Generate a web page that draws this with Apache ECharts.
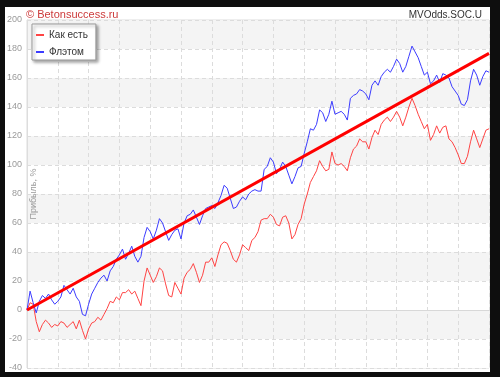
<!DOCTYPE html>
<html>
<head>
<meta charset="utf-8">
<script src="https://cdn.jsdelivr.net/npm/echarts@6/dist/echarts.min.js"></script>
<style>
html,body{margin:0;padding:0;background:#0e0e0e;}
#panel{position:absolute;left:5px;top:7px;width:485px;height:365px;background:#fff;}
#chart{position:absolute;left:0;top:0;width:500px;height:377px;}
</style>
</head>
<body>
<div id="panel"></div>
<div id="chart"></div>
<script>
// ---- data ----
const seriesNames = ['Как есть', 'Флэтом'];
const asIs = [0,5,4,-8,-15,-10,-7,-9,-12,-10,-11,-8,-9,-12,-10,-8,-13,-7,-14,-20,-13,-9,-8,-5,-7,-3,1,6,5,9,
7,12,12,14,11,13,8,3,20,29,24,19,23,29,27,18,10,9,19,15,11,22,26,28,32,26,19,24,33,33,
36,30,38,45,47,46,41,35,33,38,45,43,41,48,50,54,62,63,63,66,64,59,58,64,65,60,49,52,59,63,
73,80,88,92,96,103,99,96,97,109,101,100,101,99,96,105,111,113,118,116,116,111,119,124,121,128,131,133,130,133,
137,133,127,133,140,146,141,135,130,125,128,117,121,127,122,126,127,118,116,112,107,101,101,106,116,124,118,112,118,124,125];
const flat = [0,13,5,-2,6,10,8,11,7,4,6,9,17,14,11,15,9,6,-3,-4,4,11,15,19,22,24,20,27,30,35,
38,42,35,39,44,37,33,37,50,57,54,49,55,63,60,54,48,52,55,56,49,60,65,66,69,64,59,65,70,71,
72,70,74,79,86,84,77,70,71,75,78,76,80,82,83,82,82,97,99,105,102,94,97,102,99,93,87,92,98,99,
108,116,125,124,128,138,136,130,135,144,135,136,137,135,131,146,148,149,152,151,149,145,155,158,155,161,164,166,164,168,
173,170,164,168,175,182,178,174,168,162,164,156,158,162,157,163,162,160,154,151,148,142,141,145,158,166,162,155,161,165,164];
const arrowStart = [0, 0];
const arrowEnd = [150, 177];
const yTicks = {min: -40, max: 200, step: 20};
const xRange = {min: 0, max: 150, step: 10};
const texts = {
  copyright: '© Betonsuccess.ru',
  code: 'MVOdds.SOC.U',
  note: 'по прогнозам',
  yName: 'Прибыль, %'
};

const toPairs = arr => arr.map((v, i) => [i, v]);

const chart = echarts.init(document.getElementById('chart'), null, {renderer: 'canvas'});
chart.setOption({
  animation: false,
  backgroundColor: 'transparent',
  textStyle: {fontFamily: 'Liberation Sans, Arial, sans-serif'},
  grid: {left: 27, right: 11, top: 20, bottom: 9, show: true, borderColor: '#dddddd', borderWidth: 1, backgroundColor: 'transparent'},
  legend: {
    orient: 'vertical', left: 32, top: 24,
    data: seriesNames,
    icon: 'rect', itemWidth: 8, itemHeight: 2, itemGap: 5,
    padding: [5, 8, 2, 4],
    backgroundColor: '#ffffff', borderColor: '#999999', borderWidth: 1,
    shadowBlur: 3, shadowColor: 'rgba(0,0,0,0.35)', shadowOffsetX: 2, shadowOffsetY: 2,
    textStyle: {fontSize: 10, color: '#333', lineHeight: 12, padding: [0, 0, 0, 0]},
    selectedMode: false
  },
  xAxis: {
    type: 'value', min: xRange.min, max: xRange.max, interval: xRange.step,
    axisLabel: {show: false}, axisTick: {show: false},
    axisLine: {show: true, onZero: true, lineStyle: {color: '#d8d8d8', width: 1}},
    splitLine: {show: true, lineStyle: {color: '#dcdcdc', type: [4, 3], width: 1}}
  },
  yAxis: {
    type: 'value', min: yTicks.min, max: yTicks.max, interval: yTicks.step,
    axisLabel: {color: '#9a9a9a', fontSize: 9, margin: 5},
    axisTick: {show: false},
    axisLine: {show: true, lineStyle: {color: '#dddddd'}},
    splitLine: {show: true, lineStyle: {color: '#dcdcdc', type: [4, 3], width: 1}},
    splitArea: {show: true, areaStyle: {color: ['#ffffff', '#f4f4f4']}}
  },
  series: [
    {
      name: seriesNames[0], type: 'line', data: toPairs(asIs),
      showSymbol: false, symbol: 'none', color: '#ff4444',
      lineStyle: {width: 1, color: '#ff4444'}, z: 3
    },
    {
      name: seriesNames[1], type: 'line', data: toPairs(flat),
      showSymbol: false, symbol: 'none', color: '#3c3cff',
      lineStyle: {width: 1, color: '#3c3cff'}, z: 3
    },
    {
      name: 'arrow', type: 'line', data: [], z: 6,
      markLine: {
        silent: true, animation: false,
        symbol: ['none', 'arrow'], symbolSize: [0, 13],
        label: {show: false},
        lineStyle: {color: '#ff0000', width: 3, type: 'solid'},
        emphasis: {disabled: true},
        data: [[{coord: arrowStart}, {coord: arrowEnd}]]
      }
    }
  ],
  graphic: [
    {type: 'text', left: 26, top: 9, style: {text: texts.copyright, fill: '#cc3a3a', fontSize: 11, fontFamily: 'Liberation Sans, Arial, sans-serif'}},
    {type: 'text', right: 18, top: 10, style: {text: texts.code, fill: '#333333', fontSize: 10, fontFamily: 'Liberation Sans, Arial, sans-serif'}},
    {type: 'text', right: 17, top: 300, style: {text: texts.note, fill: '#8a8a8a', fontSize: 9, fontFamily: 'Liberation Sans, Arial, sans-serif'}},
    {type: 'text', x: 34, y: 194, rotation: Math.PI / 2, z: 10,
      style: {text: texts.yName, fill: '#9a9a9a', fontSize: 9, align: 'center', verticalAlign: 'middle', fontFamily: 'Liberation Sans, Arial, sans-serif'}}
  ]
});
</script>
</body>
</html>
